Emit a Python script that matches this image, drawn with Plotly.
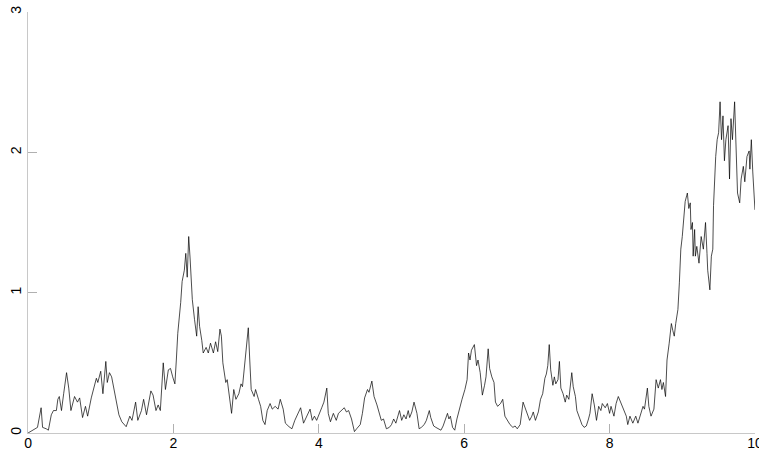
import plotly.graph_objects as go

# Path (x in [0,10], y value)
x_vals = [0.00, 0.06, 0.10, 0.13, 0.18, 0.20, 0.25, 0.28, 0.32, 0.35, 0.39, 0.41, 0.43, 0.46, 0.49,
          0.53, 0.56, 0.59, 0.64, 0.68, 0.71, 0.75, 0.79, 0.82, 0.87, 0.92, 0.94, 0.96, 1.00, 1.03,
          1.07, 1.09, 1.12, 1.15, 1.18, 1.21, 1.25, 1.29, 1.32, 1.35, 1.40, 1.43, 1.48, 1.51, 1.56,
          1.59, 1.63, 1.69, 1.72, 1.76, 1.79, 1.82, 1.86, 1.89, 1.93, 1.96, 1.99, 2.02, 2.04, 2.06,
          2.10, 2.12, 2.15, 2.17, 2.19, 2.21, 2.23, 2.26, 2.29, 2.32, 2.34, 2.36, 2.39, 2.41, 2.45,
          2.48, 2.51, 2.55, 2.58, 2.61, 2.64, 2.66, 2.68, 2.72, 2.74, 2.78, 2.80, 2.83, 2.86, 2.90,
          2.93, 2.95, 2.99, 3.03, 3.05, 3.07, 3.11, 3.13, 3.17, 3.20, 3.23, 3.26, 3.29, 3.33, 3.36,
          3.40, 3.44, 3.47, 3.51, 3.54, 3.59, 3.63, 3.67, 3.70, 3.75, 3.79, 3.83, 3.88, 3.91, 3.94,
          3.97, 4.01, 4.04, 4.07, 4.11, 4.13, 4.16, 4.20, 4.24, 4.27, 4.31, 4.35, 4.38, 4.41, 4.45,
          4.49, 4.52, 4.57, 4.60, 4.63, 4.67, 4.69, 4.73, 4.76, 4.80, 4.83, 4.86, 4.89, 4.93, 4.97,
          5.00, 5.03, 5.06, 5.11, 5.14, 5.17, 5.20, 5.23, 5.25, 5.28, 5.31, 5.35, 5.38, 5.41, 5.45,
          5.48, 5.52, 5.54, 5.58, 5.61, 5.64, 5.68, 5.71, 5.74, 5.77, 5.79, 5.81, 5.84, 5.87, 5.90,
          5.94, 5.97, 6.01, 6.04, 6.06, 6.08, 6.10, 6.14, 6.17, 6.19, 6.22, 6.25, 6.28, 6.30, 6.33,
          6.35, 6.38, 6.41, 6.43, 6.46, 6.50, 6.53, 6.56, 6.59, 6.63, 6.67, 6.70, 6.73, 6.77, 6.81,
          6.84, 6.87, 6.90, 6.93, 6.95, 6.98, 7.02, 7.05, 7.08, 7.11, 7.13, 7.15, 7.17, 7.19, 7.22,
          7.24, 7.26, 7.29, 7.31, 7.33, 7.36, 7.39, 7.41, 7.44, 7.48, 7.50, 7.53, 7.55, 7.58, 7.62,
          7.65, 7.68, 7.71, 7.73, 7.76, 7.79, 7.82, 7.85, 7.88, 7.90, 7.94, 7.97, 8.00, 8.02, 8.06,
          8.09, 8.12, 8.16, 8.19, 8.23, 8.25, 8.28, 8.32, 8.36, 8.39, 8.42, 8.46, 8.48, 8.52, 8.54,
          8.57, 8.61, 8.64, 8.67, 8.70, 8.72, 8.74, 8.77, 8.79, 8.82, 8.85, 8.87, 8.89, 8.91, 8.94,
          8.96, 8.98, 9.00, 9.02, 9.04, 9.06, 9.07, 9.09, 9.11, 9.12, 9.14, 9.15, 9.17, 9.18, 9.20,
          9.23, 9.26, 9.29, 9.32, 9.34, 9.35, 9.38, 9.40, 9.42, 9.43, 9.46, 9.48, 9.50, 9.52, 9.54,
          9.56, 9.58, 9.60, 9.63, 9.65, 9.67, 9.69, 9.72, 9.74, 9.76, 9.79, 9.81, 9.84, 9.86, 9.89,
          9.92, 9.93, 9.95, 9.97, 9.99, 10.00]

y_vals = [0.00, 0.02, 0.03, 0.04, 0.18, 0.04, 0.03, 0.02, 0.13, 0.16, 0.16, 0.24, 0.26, 0.16, 0.28,
          0.43, 0.32, 0.16, 0.26, 0.22, 0.25, 0.11, 0.19, 0.12, 0.25, 0.34, 0.39, 0.36, 0.44, 0.28,
          0.51, 0.36, 0.43, 0.40, 0.32, 0.25, 0.13, 0.08, 0.06, 0.045, 0.12, 0.09, 0.22, 0.09, 0.16,
          0.24, 0.13, 0.30, 0.27, 0.16, 0.20, 0.16, 0.50, 0.31, 0.45, 0.46, 0.40, 0.35, 0.52, 0.71,
          0.93, 1.08, 1.16, 1.28, 1.11, 1.40, 1.24, 0.95, 0.81, 0.69, 0.90, 0.76, 0.66, 0.57, 0.61,
          0.57, 0.64, 0.57, 0.65, 0.58, 0.74, 0.69, 0.50, 0.36, 0.38, 0.24, 0.14, 0.31, 0.24, 0.28,
          0.35, 0.33, 0.52, 0.75, 0.52, 0.31, 0.26, 0.31, 0.24, 0.19, 0.09, 0.06, 0.16, 0.21, 0.17,
          0.19, 0.17, 0.24, 0.17, 0.07, 0.045, 0.03, 0.09, 0.12, 0.18, 0.07, 0.12, 0.17, 0.09, 0.12,
          0.09, 0.15, 0.18, 0.22, 0.32, 0.14, 0.08, 0.14, 0.09, 0.14, 0.16, 0.18, 0.15, 0.16, 0.10,
          0.01, 0.03, 0.06, 0.14, 0.25, 0.31, 0.29, 0.37, 0.26, 0.20, 0.14, 0.09, 0.10, 0.03, 0.04,
          0.06, 0.10, 0.07, 0.16, 0.09, 0.13, 0.10, 0.16, 0.11, 0.15, 0.22, 0.14, 0.03, 0.04, 0.06,
          0.09, 0.16, 0.11, 0.05, 0.04, 0.03, 0.02, 0.05, 0.09, 0.14, 0.10, 0.12, 0.04, 0.02, 0.10,
          0.19, 0.24, 0.31, 0.38, 0.57, 0.52, 0.59, 0.63, 0.48, 0.52, 0.43, 0.27, 0.34, 0.40, 0.60,
          0.46, 0.40, 0.36, 0.22, 0.19, 0.21, 0.24, 0.12, 0.09, 0.06, 0.04, 0.05, 0.03, 0.06, 0.22,
          0.18, 0.14, 0.09, 0.12, 0.15, 0.09, 0.15, 0.24, 0.28, 0.39, 0.42, 0.48, 0.63, 0.45, 0.34,
          0.40, 0.35, 0.38, 0.51, 0.32, 0.28, 0.22, 0.27, 0.24, 0.43, 0.33, 0.26, 0.16, 0.11, 0.06,
          0.04, 0.05, 0.10, 0.14, 0.28, 0.20, 0.09, 0.19, 0.16, 0.21, 0.18, 0.21, 0.14, 0.19, 0.12,
          0.21, 0.26, 0.21, 0.18, 0.12, 0.06, 0.12, 0.07, 0.12, 0.07, 0.12, 0.19, 0.17, 0.32, 0.19,
          0.12, 0.17, 0.38, 0.32, 0.38, 0.31, 0.36, 0.26, 0.52, 0.64, 0.78, 0.73, 0.69, 0.78, 0.88,
          1.07, 1.31, 1.40, 1.55, 1.65, 1.69, 1.71, 1.60, 1.64, 1.45, 1.50, 1.26, 1.45, 1.26, 1.33,
          1.21, 1.40, 1.31, 1.50, 1.28, 1.16, 1.02, 1.26, 1.31, 1.62, 1.97, 2.09, 2.14, 2.36, 2.09,
          2.26, 1.94, 2.09, 2.19, 1.81, 2.24, 2.09, 2.36, 2.01, 1.71, 1.64, 1.81, 1.90, 1.79, 1.97,
          2.01, 1.88, 2.09, 1.86, 1.66, 1.59]

x_ticks = [0, 2, 4, 6, 8, 10]
y_ticks = [0, 1, 2, 3]

fig = go.Figure()
fig.add_trace(go.Scatter(x=x_vals, y=y_vals, mode="lines",
                         line=dict(color="black", width=0.7), showlegend=False,
                         hoverinfo="skip"))

axis_common = dict(showgrid=False, zeroline=False, showline=True, linecolor="#c8c8c8",
                   linewidth=1, ticks="inside", ticklen=9, tickcolor="#b0b0b0", tickwidth=1,
                   tickfont=dict(family="Liberation Sans, Arial, sans-serif", size=14, color="black"),
                   automargin=False)

fig.update_layout(
    width=759, height=451,
    margin=dict(l=28, r=4, t=12, b=18, pad=0),
    paper_bgcolor="white", plot_bgcolor="white",
    xaxis=dict(range=[-0.0005, 10.0005], tickvals=x_ticks, ticktext=[str(v) for v in x_ticks],
               ticklabelstandoff=-3, ticklabeloverflow="allow", **axis_common),
    yaxis=dict(range=[0, 3], tickvals=y_ticks, ticktext=[str(v) for v in y_ticks], tickangle=-90,
               **axis_common),
)

fig.write_html("out.html")
